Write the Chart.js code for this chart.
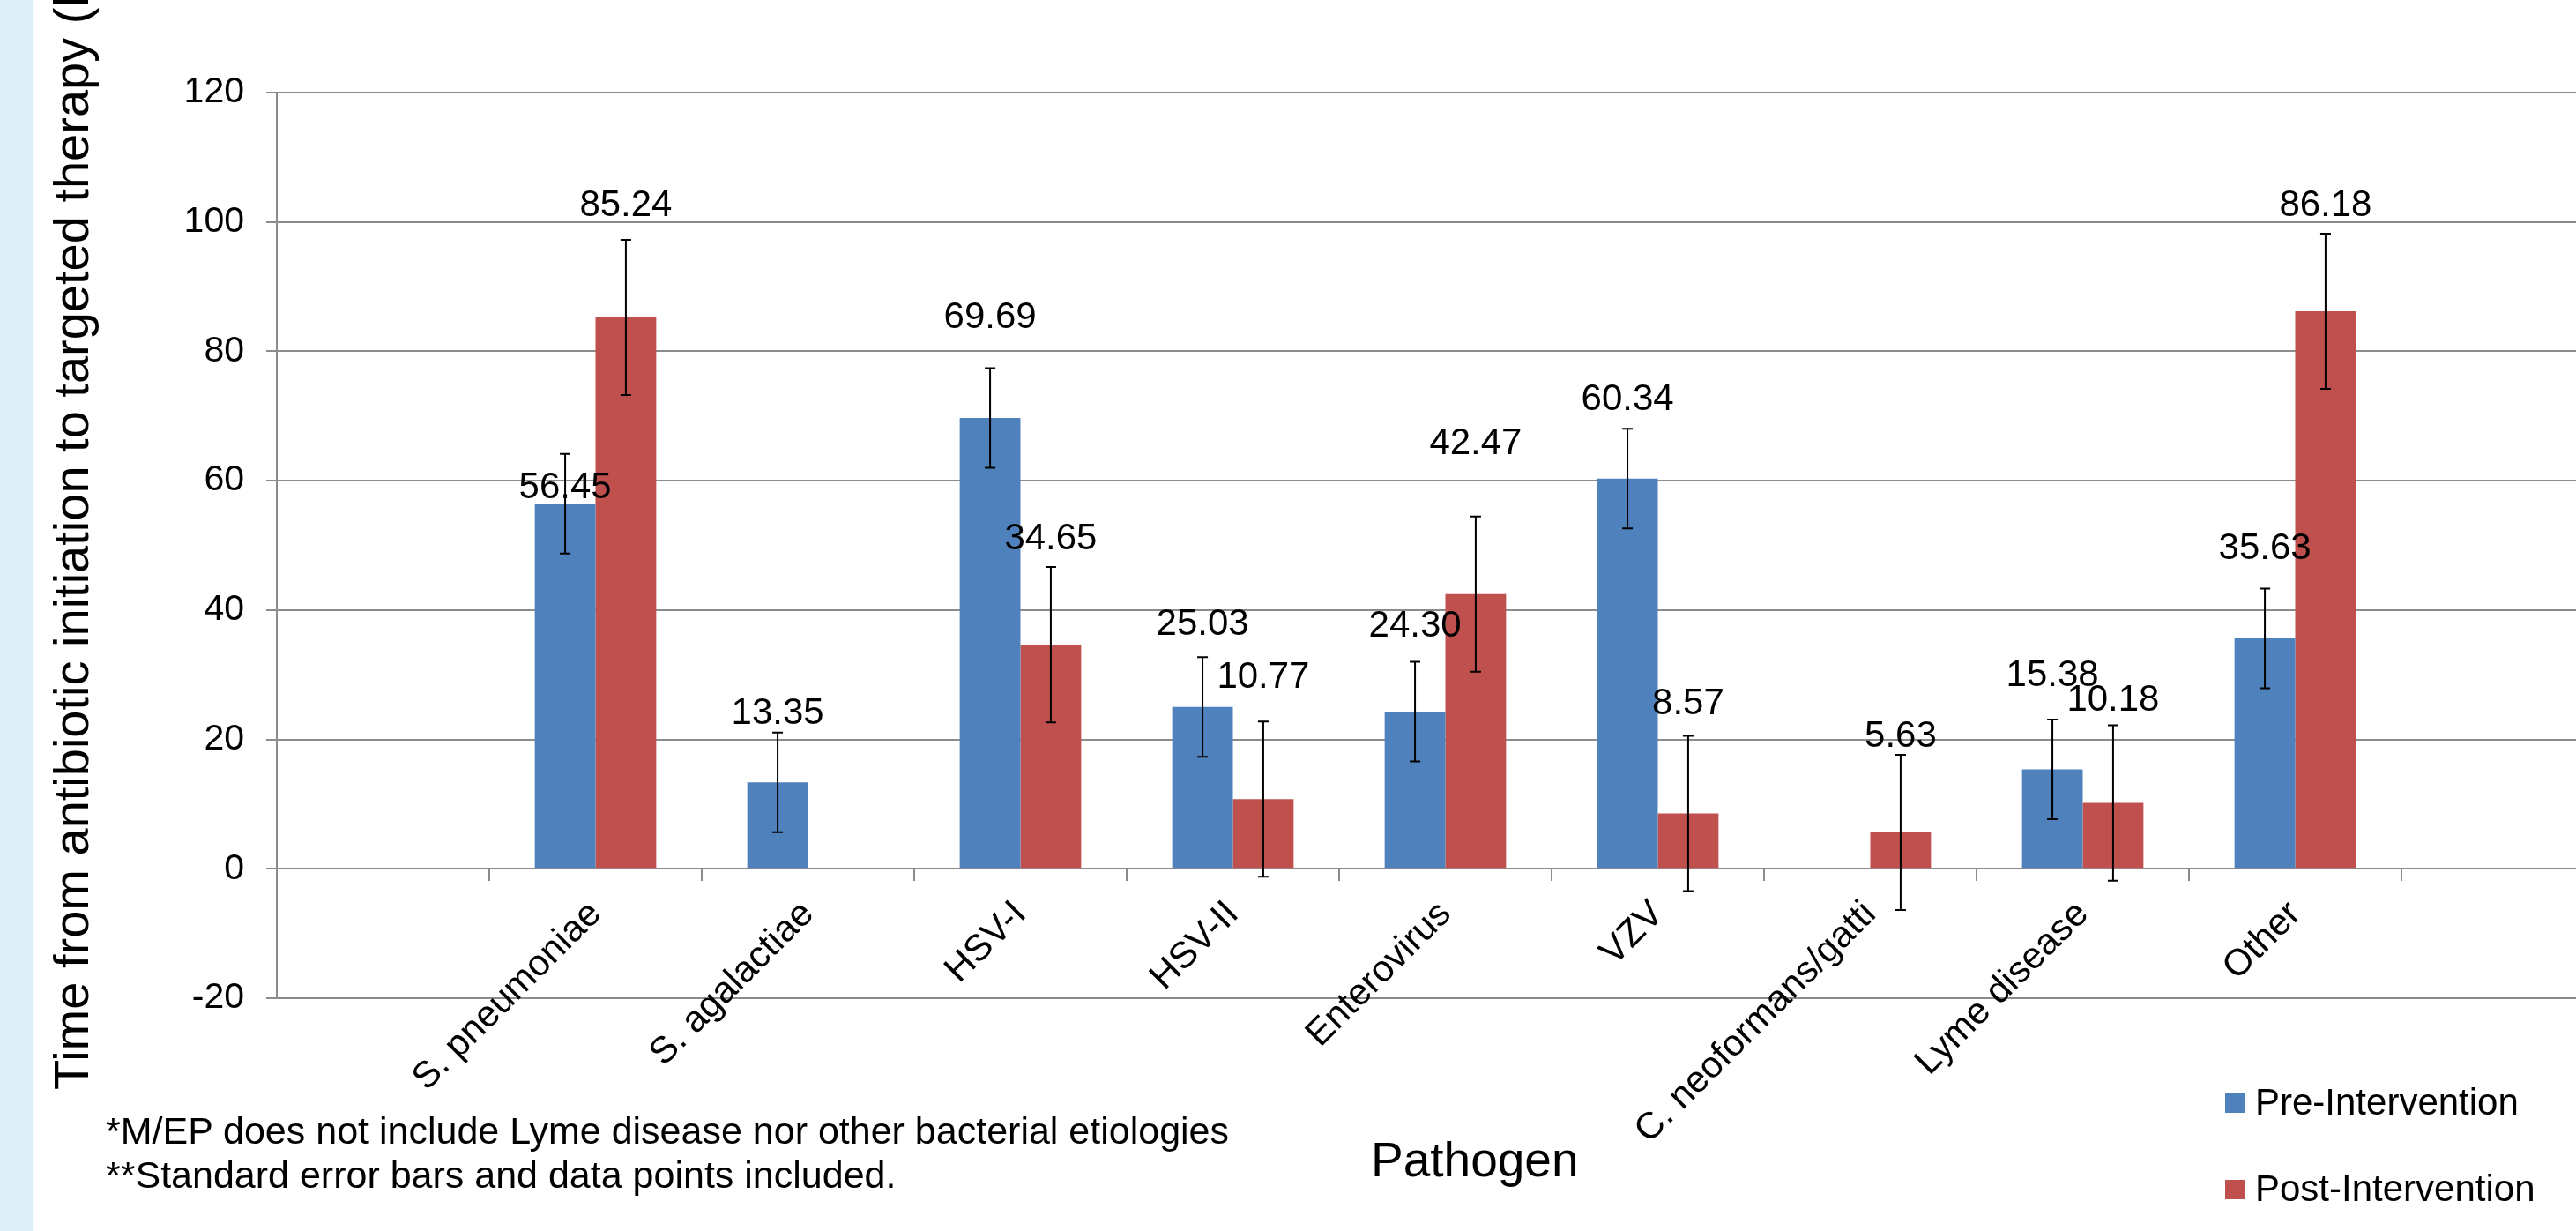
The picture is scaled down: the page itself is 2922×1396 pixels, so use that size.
<!DOCTYPE html>
<html lang="en">
<head>
    <meta charset="UTF-8">
    <title>Time to targeted therapy by pathogen</title>
    <style>
        body {
            margin: 0;
            width: 2922px;
            height: 1396px;
            overflow: hidden;
            background: #fff;
            font-family: 'Liberation Sans', Arial, sans-serif;
            color: #000;
            position: relative;
        }

        .strip {
            position: absolute;
            left: 0;
            top: 0;
            width: 37px;
            height: 1396px;
            background: #ddeff8;
        }

        .wrap {
            position: absolute;
            left: 0;
            top: 0;
            width: 3000px;
            height: 1396px;
        }

        .txt {
            position: absolute;
            white-space: nowrap;
            line-height: 1;
        }

        .y-title {
            font-size: 56px;
            left: 53px;
            top: 1236px;
            transform-origin: 0 0;
            transform: rotate(-90deg);
        }

        .x-title { font-size: 55px; left: 1555px; top: 1288px; }
        .note { font-size: 43px; left: 120px; }
        .legend-item { font-size: 42px; left: 2558px; }

        .swatch {
            position: absolute;
            left: 2524px;
            width: 22px;
            height: 22px;
        }
    </style>
</head>
<body>
    <div class="strip"></div>
    <div class="wrap"><canvas id="chart" width="3000" height="1396"></canvas></div>

    <div class="txt y-title">Time from antibiotic initiation to targeted therapy (hours)</div>
    <div class="txt x-title">Pathogen</div>
    <div class="txt note" style="top:1261px">*M/EP does not include Lyme disease nor other bacterial etiologies</div>
    <div class="txt note" style="top:1311px">**Standard error bars and data points included.</div>

    <div class="swatch" style="top:1240px;background:#4f81bd"></div>
    <div class="txt legend-item" style="top:1229px">Pre-Intervention</div>
    <div class="swatch" style="top:1338px;background:#c0504d"></div>
    <div class="txt legend-item" style="top:1327px">Post-Intervention</div>

    <script src="https://cdn.jsdelivr.net/npm/chart.js@4"></script>
    <script>
        // categories (first and last slot are empty in the original)
        const pathogens = ['', 'S. pneumoniae', 'S. agalactiae', 'HSV-I', 'HSV-II', 'Enterovirus',
            'VZV', 'C. neoformans/gatti', 'Lyme disease', 'Other', ''];

        const preValues  = [null, 56.45, 13.35, 69.69, 25.03, 24.30, 60.34, null, 15.38, 35.63, null];
        const postValues = [null, 85.24, null, 34.65, 10.77, 42.47, 8.57, 5.63, 10.18, 86.18, null];

        // standard error
        const preErr  = [null, 7.7, 7.7, 7.7, 7.7, 7.7, 7.7, null, 7.7, 7.7, null];
        const postErr = [null, 12, null, 12, 12, 12, 12, 12, 12, 12, null];

        // where each value label sits, in axis units (labels were hand placed)
        const preLabelAt  = [null, 58.9, 24.0, 85.2, 37.8, 37.5, 72.5, null, 29.9, 49.5, null];
        const postLabelAt = [null, 102.5, null, 51.0, 29.6, 65.7, 25.5, 20.4, 26.0, 102.5, null];

        const yTicks = { min: -20, max: 120, step: 20 };

        const FONT = "'Liberation Sans', Arial, sans-serif";
        const GRID = '#8c8c8c';
        Chart.defaults.font.family = FONT;
        Chart.defaults.color = '#000';

        const errs = [preErr, postErr];
        const labelAt = [preLabelAt, postLabelAt];

        // whiskers
        const errorBars = {
            id: 'errorBars',
            afterDatasetsDraw(chart) {
                const ctx = chart.ctx;
                const y = chart.scales.y;
                ctx.save();
                ctx.strokeStyle = '#000';
                ctx.lineWidth = 2;
                chart.data.datasets.forEach((ds, i) => {
                    chart.getDatasetMeta(i).data.forEach((bar, j) => {
                        const v = ds.data[j];
                        const e = errs[i][j];
                        if (v == null || e == null) return;
                        const top = y.getPixelForValue(v + e);
                        const bot = y.getPixelForValue(v - e);
                        ctx.beginPath();
                        ctx.moveTo(bar.x, top); ctx.lineTo(bar.x, bot);
                        ctx.moveTo(bar.x - 6, top); ctx.lineTo(bar.x + 6, top);
                        ctx.moveTo(bar.x - 6, bot); ctx.lineTo(bar.x + 6, bot);
                        ctx.stroke();
                    });
                });
                ctx.restore();
            }
        };

        // value labels
        const valueLabels = {
            id: 'valueLabels',
            afterDraw(chart) {
                const ctx = chart.ctx;
                const y = chart.scales.y;
                ctx.save();
                ctx.font = '42px ' + FONT;
                ctx.fillStyle = '#000';
                ctx.textAlign = 'center';
                ctx.textBaseline = 'middle';
                chart.data.datasets.forEach((ds, i) => {
                    chart.getDatasetMeta(i).data.forEach((bar, j) => {
                        const v = ds.data[j];
                        if (v == null) return;
                        ctx.fillText(v.toFixed(2), bar.x, y.getPixelForValue(labelAt[i][j]));
                    });
                });
                ctx.restore();
            }
        };

        new Chart(document.getElementById('chart'), {
            type: 'bar',
            data: {
                labels: pathogens,
                datasets: [
                    { label: 'Pre-Intervention', data: preValues, backgroundColor: '#4f81bd' },
                    { label: 'Post-Intervention', data: postValues, backgroundColor: '#c0504d' }
                ]
            },
            options: {
                responsive: false,
                animation: false,
                layout: { padding: { left: 0, top: 105, right: 35, bottom: 264 } },
                datasets: { bar: { categoryPercentage: 2 / 3.5, barPercentage: 1 } },
                plugins: { legend: { display: false }, tooltip: { enabled: false } },
                scales: {
                    x: {
                        position: { y: 0 },
                        offset: true,
                        grid: { drawOnChartArea: false, drawTicks: true, tickLength: 13, color: GRID, lineWidth: 2 },
                        border: { color: GRID, width: 2 },
                        ticks: {
                            autoSkip: false,
                            minRotation: 45,
                            maxRotation: 45,
                            padding: 14,
                            font: { size: 42 }
                        }
                    },
                    y: {
                        min: yTicks.min,
                        max: yTicks.max,
                        grid: { color: GRID, lineWidth: 2, tickLength: 12 },
                        border: { color: GRID, width: 2 },
                        ticks: { stepSize: yTicks.step, padding: 25, font: { size: 41 } },
                        afterFit(scale) {
                            scale.width = 314;
                            scale.paddingTop = 0;
                            scale.paddingBottom = 0;
                        }
                    }
                }
            },
            plugins: [errorBars, valueLabels]
        });
    </script>
</body>
</html>
